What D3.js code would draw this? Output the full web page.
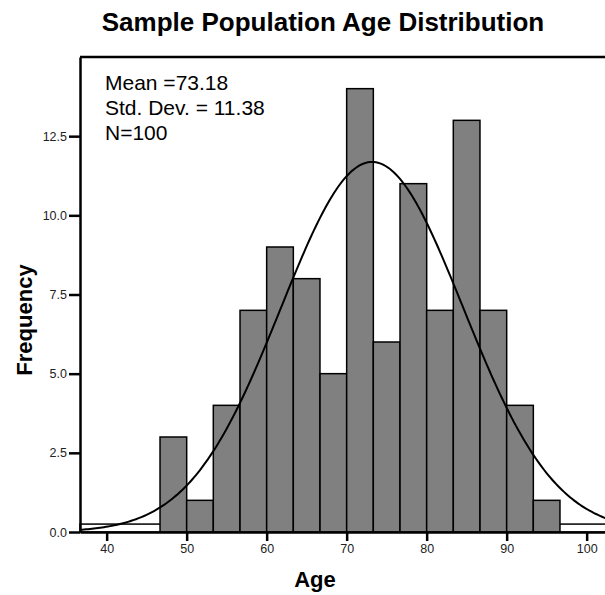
<!DOCTYPE html>
<html lang="en">
<head>
    <meta charset="UTF-8">
    <title>Sample Population Age Distribution</title>
    <script src="https://d3js.org/d3.v7.min.js"></script>
    <style>
        body { margin: 0; background: #fff; }
        text { font-family: "Liberation Sans", Arial, sans-serif; }
        .axis path, .axis line { stroke: #000; stroke-width: 2.5; }
        .axis text { font-size: 12.5px; fill: #222; }
    </style>
</head>
<body>
    <div id="chart"></div>
    <script>
        // histogram bins (age), width 10/3
        var binStarts = [46.67, 50, 53.33, 56.67, 60, 63.33, 66.67, 70, 73.33, 76.67, 80, 83.33, 86.67, 90, 93.33];
        var counts = [3, 1, 4, 7, 9, 8, 5, 14, 6, 11, 7, 13, 7, 4, 1];
        var binWidth = 10 / 3;
        var yTicks = [0, 2.5, 5, 7.5, 10, 12.5];
        var xTicks = [40, 50, 60, 70, 80, 90, 100];
        var mean = 73.18, sd = 11.38, n = 100;
        var statLines = ["Mean =73.18", "Std. Dev. = 11.38", "N=100"];

        var W = 605, H = 595;
        var plotLeft = 80, plotTop = 57, plotBottom = 532;

        var svg = d3.select("#chart").append("svg")
            .attr("width", W).attr("height", H);

        var x = d3.scaleLinear().domain([36.667, 106.667]).range([plotLeft, plotLeft + 70 * 8]);
        var y = d3.scaleLinear().domain([0, 15]).range([plotBottom, plotTop]);

        // odd baseline box SPSS draws under the bars
        svg.append("rect")
            .attr("x", x(36.667)).attr("y", y(0.25))
            .attr("width", x(106.667) - x(36.667)).attr("height", y(0) - y(0.25))
            .attr("fill", "#fff").attr("stroke", "#000").attr("stroke-width", 1.5);

        svg.selectAll(".bar")
            .data(binStarts)
            .enter().append("rect")
            .attr("class", "bar")
            .attr("x", function (d) { return x(d); })
            .attr("y", function (d, i) { return y(counts[i]); })
            .attr("width", function (d) { return x(d + binWidth) - x(d); })
            .attr("height", function (d, i) { return y(0) - y(counts[i]); })
            .attr("fill", "#808080")
            .attr("stroke", "#000")
            .attr("stroke-width", 1.5);

        // normal curve from the stats
        var curvePts = d3.range(36.667, 106.8, 0.25);
        var line = d3.line()
            .x(function (d) { return x(d); })
            .y(function (d) {
                var z = (d - mean) / sd;
                return y(n * binWidth * Math.exp(-0.5 * z * z) / (sd * Math.sqrt(2 * Math.PI)));
            });
        svg.append("path")
            .attr("d", line(curvePts))
            .attr("fill", "none").attr("stroke", "#000").attr("stroke-width", 2);

        // frame top
        svg.append("line")
            .attr("x1", plotLeft).attr("x2", W).attr("y1", plotTop).attr("y2", plotTop)
            .attr("stroke", "#000").attr("stroke-width", 2.5);

        svg.append("g").attr("class", "axis")
            .attr("transform", "translate(0," + plotBottom + ")")
            .call(d3.axisBottom(x).tickValues(xTicks).tickSize(9).tickPadding(3).tickSizeOuter(0));

        svg.append("g").attr("class", "axis")
            .attr("transform", "translate(" + plotLeft + ",0)")
            .call(d3.axisLeft(y).tickValues(yTicks).tickFormat(d3.format(".1f")).tickSize(11).tickPadding(2).tickSizeOuter(0));

        svg.selectAll(".stat")
            .data(statLines)
            .enter().append("text")
            .attr("x", 105).attr("y", function (d, i) { return 90 + i * 25; })
            .attr("font-size", "21px")
            .text(function (d) { return d; });

        svg.append("text")
            .attr("x", 323).attr("y", 31)
            .attr("text-anchor", "middle")
            .attr("font-size", "26px").attr("font-weight", "bold")
            .text("Sample Population Age Distribution");

        svg.append("text")
            .attr("x", 315).attr("y", 587)
            .attr("text-anchor", "middle")
            .attr("font-size", "22px").attr("font-weight", "bold")
            .text("Age");

        svg.append("text")
            .attr("transform", "translate(32,320) rotate(-90)")
            .attr("text-anchor", "middle")
            .attr("font-size", "22px").attr("font-weight", "bold")
            .text("Frequency");
    </script>
</body>
</html>
